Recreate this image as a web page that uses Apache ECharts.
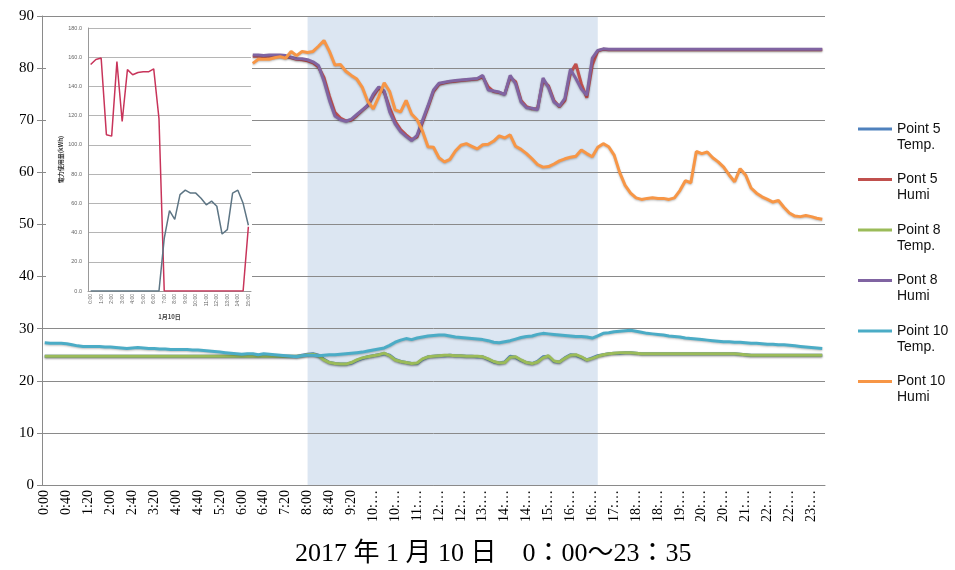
<!DOCTYPE html>
<html>
<head>
<meta charset="utf-8">
<script src="https://cdn.jsdelivr.net/npm/echarts@6/dist/echarts.min.js"></script>
<style>
  html, body { margin: 0; padding: 0; background: #fff; }
  #chart { width: 955px; height: 570px; }
</style>
</head>
<body>
<div id="chart"></div>
<script>
// Time axis: one category every 10 minutes from 0:00
const times = [];
for (let i = 0; i < 143; i++) {
  const h = Math.floor(i / 6), m = (i % 6) * 10;
  times.push(h + ':' + (m < 10 ? '0' : '') + m);
}

// Temperature (°C) and humidity (%) readings
const p5Temp = [
  24.7,24.7,24.7,24.7,24.7,24.7,24.7,24.7,24.7,24.7,
  24.7,24.7,24.7,24.7,24.7,24.7,24.7,24.7,24.7,24.7,
  24.7,24.7,24.7,24.7,24.7,24.7,24.7,24.7,24.7,24.7,
  24.7,24.7,24.7,24.7,24.7,24.7,24.7,24.7,24.7,24.7,
  24.7,24.7,24.7,24.7,24.7,24.7,24.7,24.9,25.1,25.2,
  24.9,24.1,23.5,23.3,23.2,23.2,23.4,23.9,24.3,24.6,
  24.8,25.0,25.2,24.9,24.1,23.7,23.5,23.3,23.3,24.1,
  24.6,24.7,24.8,24.8,24.9,24.8,24.8,24.7,24.7,24.6,
  24.6,24.1,23.6,23.4,23.6,24.7,24.5,23.9,23.5,23.3,
  23.7,24.6,24.7,23.7,23.6,24.4,25.0,24.9,24.5,24.0,
  24.4,24.8,25.0,25.2,25.3,25.3,25.4,25.4,25.3,25.2,
  25.2,25.2,25.2,25.2,25.2,25.2,25.2,25.2,25.2,25.2,
  25.2,25.2,25.2,25.2,25.2,25.2,25.2,25.1,25.0,24.9,
  24.9,24.9,24.9,24.9,24.9,24.9,24.9,24.9,24.9,24.9,
  24.9,24.9,24.9
];
const p5Humi = [
  null,null,null,null,null,null,null,null,null,null,
  null,null,null,null,null,null,null,null,null,null,
  null,null,null,null,null,null,null,null,null,null,
  null,null,null,null,null,null,null,null,82.3,82.3,
  82.2,82.3,82.3,82.3,82.2,82.0,81.7,81.6,81.4,81.0,
  80.2,78.2,74.6,71.5,70.4,69.9,70.0,70.9,71.9,72.8,
  74.6,76.2,75.4,72.4,69.8,68.2,67.2,66.3,66.8,69.6,
  72.5,75.5,76.9,77.2,77.4,77.5,77.6,77.7,77.8,77.9,
  78.3,76.4,75.5,75.3,75.0,78.2,77.4,73.8,72.6,72.2,
  72.2,77.6,76.6,73.8,72.6,73.8,79.0,80.8,77.0,74.3,
  80.6,83.3,83.6,83.5,83.5,83.5,83.5,83.5,83.5,83.5,
  83.5,83.5,83.5,83.5,83.5,83.5,83.5,83.5,83.5,83.5,
  83.5,83.5,83.5,83.5,83.5,83.5,83.5,83.5,83.5,83.5,
  83.5,83.5,83.5,83.5,83.5,83.5,83.5,83.5,83.5,83.5,
  83.5,83.5,83.5
];
const p8Temp = [
  24.7,24.7,24.7,24.7,24.7,24.7,24.7,24.7,24.7,24.7,
  24.7,24.7,24.7,24.7,24.7,24.7,24.7,24.7,24.7,24.7,
  24.7,24.7,24.7,24.7,24.7,24.7,24.7,24.7,24.7,24.7,
  24.7,24.7,24.7,24.7,24.7,24.7,24.7,24.7,24.7,24.7,
  24.7,24.7,24.7,24.7,24.7,24.7,24.7,24.8,25.0,25.1,
  24.8,24.0,23.5,23.3,23.2,23.2,23.5,24.0,24.4,24.6,
  24.8,25.0,25.3,24.8,24.0,23.7,23.5,23.3,23.4,24.2,
  24.6,24.7,24.8,24.9,24.9,24.8,24.8,24.7,24.7,24.7,
  24.6,24.2,23.7,23.4,23.5,24.5,24.6,24.0,23.5,23.3,
  23.6,24.4,24.8,23.8,23.6,24.3,24.9,25.0,24.6,24.0,
  24.3,24.7,25.0,25.2,25.3,25.4,25.4,25.4,25.3,25.2,
  25.2,25.2,25.2,25.2,25.2,25.2,25.2,25.2,25.2,25.2,
  25.2,25.2,25.2,25.2,25.2,25.2,25.2,25.1,25.0,24.9,
  24.9,24.9,24.9,24.9,24.9,24.9,24.9,24.9,24.9,24.9,
  24.9,24.9,24.9
];
const p8Humi = [
  null,null,null,null,null,null,null,null,null,null,
  null,null,null,null,null,null,null,null,null,null,
  null,null,null,null,null,null,null,null,null,null,
  null,null,null,null,null,null,null,null,82.5,82.5,
  82.4,82.5,82.5,82.5,82.4,82.1,81.8,81.8,81.6,81.2,
  80.5,77.5,73.8,70.8,70.1,69.8,70.2,71.1,72.0,72.9,
  75.0,76.4,75.6,71.6,69.3,67.8,66.9,66.1,67.1,70.0,
  72.8,75.8,77.1,77.3,77.5,77.6,77.7,77.8,77.9,78.0,
  78.6,75.8,75.6,75.4,74.9,78.6,77.0,73.5,72.4,72.3,
  72.0,78.1,76.3,73.5,72.7,74.2,79.8,78.0,76.0,74.8,
  81.9,83.4,83.7,83.6,83.6,83.6,83.6,83.6,83.6,83.6,
  83.6,83.6,83.6,83.6,83.6,83.6,83.6,83.6,83.6,83.6,
  83.6,83.6,83.6,83.6,83.6,83.6,83.6,83.6,83.6,83.6,
  83.6,83.6,83.6,83.6,83.6,83.6,83.6,83.6,83.6,83.6,
  83.6,83.6,83.6
];
const p10Temp = [
  27.3,27.2,27.2,27.2,27.1,26.9,26.7,26.6,26.6,26.6,
  26.6,26.5,26.5,26.4,26.3,26.2,26.3,26.4,26.3,26.2,
  26.2,26.1,26.1,26.0,26.0,26.0,26.0,25.9,25.9,25.8,
  25.7,25.6,25.5,25.4,25.3,25.2,25.1,25.2,25.2,25.0,
  25.2,25.1,25.0,24.9,24.8,24.7,24.6,24.8,24.9,24.9,
  24.8,24.9,25.0,25.0,25.1,25.2,25.3,25.4,25.5,25.7,
  25.9,26.1,26.3,26.8,27.4,27.8,28.1,27.9,28.2,28.4,
  28.6,28.7,28.8,28.8,28.6,28.4,28.3,28.2,28.1,28.0,
  27.9,27.7,27.4,27.3,27.5,27.7,28.0,28.3,28.5,28.6,
  28.9,29.1,29.0,28.9,28.8,28.7,28.6,28.5,28.5,28.4,
  28.2,28.6,29.1,29.2,29.4,29.5,29.6,29.7,29.5,29.3,
  29.1,29.0,28.9,28.8,28.6,28.5,28.4,28.2,28.1,28.0,
  27.9,27.8,27.7,27.6,27.5,27.5,27.4,27.4,27.3,27.2,
  27.2,27.1,27.0,27.0,26.9,26.9,26.8,26.7,26.6,26.5,
  26.4,26.3,26.2
];
const p10Humi = [
  null,null,null,null,null,null,null,null,null,null,
  null,null,null,null,null,null,null,null,null,null,
  null,null,null,null,null,null,null,null,null,null,
  null,null,null,null,null,null,null,null,80.9,81.7,
  81.7,81.7,82.0,82.2,81.9,83.2,82.4,83.2,83.0,83.2,
  84.2,85.3,83.2,80.6,80.7,79.4,78.6,77.9,76.3,73.6,
  72.2,74.5,77.2,75.5,72.0,71.6,73.8,71.2,70.1,67.9,
  64.9,64.8,62.8,62.0,62.5,64.1,65.2,65.5,65.0,64.5,
  65.3,65.4,66.0,67.0,66.6,67.2,65.0,64.4,63.6,62.6,
  61.5,61.0,61.1,61.6,62.2,62.6,62.9,63.1,64.3,63.6,
  63.0,64.8,65.5,64.9,63.3,60.0,57.5,56.0,55.1,54.8,
  55.0,55.1,55.0,55.0,54.8,55.1,56.5,58.4,58.0,64.0,
  63.6,63.9,62.8,62.0,61.0,59.5,58.2,60.7,59.5,57.0,
  56.0,55.3,54.8,54.3,54.6,53.3,52.2,51.6,51.5,51.7,
  51.5,51.2,51.0
];

// Shaded operating period on the main time axis
const shadeFrom = '8:00', shadeTo = '16:50';

// Inset: power usage (kWh), half-hour steps
const insetTimes = [];
for (let i = 0; i <= 30; i++) {
  insetTimes.push(Math.floor(i / 2) + ':' + (i % 2 ? '30' : '00'));
}
const insetRed = [
  155,158.5,159.5,107,106,157,116,151.5,148,149.5,
  150,150,152,118,0,0,0,0,0,0,
  0,0,0,0,0,0,0,0,0,0,44
];
const insetGray = [
  0,0,0,0,0,0,0,0,0,0,
  0,0,0,0,36,55,49,66,69,67,
  67,63.5,59,61.5,58,39,42,67,69,60,45
];

const names = ['Point 5\nTemp.', 'Pont 5\nHumi', 'Point 8\nTemp.', 'Pont 8\nHumi', 'Point 10\nTemp.', 'Pont 10\nHumi'];
const colors = ['#4F81BD', '#C0504D', '#9BBB59', '#8064A2', '#4BACC6', '#F79646'];
const values = [p5Temp, p5Humi, p8Temp, p8Humi, p10Temp, p10Humi];

const serif = "'Liberation Serif', 'Noto Sans CJK JP', serif";
const gridGray = '#8a8a8a';

const mainSeries = names.map((n, k) => ({
  name: n,
  type: 'line',
  data: values[k],
  symbol: 'none',
  z: 4,
  connectNulls: false,
  lineStyle: {
    color: colors[k], width: 3,
    shadowColor: 'rgba(0,0,0,0.25)', shadowBlur: 2, shadowOffsetY: 1
  },
  itemStyle: { color: colors[k] }
}));

const option = {
  animation: false,
  backgroundColor: '#fff',
  title: {
    text: '2017 年 1 月 10 日　0：00～23：35',
    left: 290,
    top: 536,
    textStyle: { fontFamily: serif, fontSize: 26, fontWeight: 'normal', color: '#000' }
  },
  legend: {
    data: names,
    orient: 'vertical',
    left: 853,
    top: 100,
    itemWidth: 34,
    itemHeight: 10,
    itemGap: 2.5,
    icon: 'path://M0,0 L34,0 L34,3 L0,3 Z',
    // leading blank line keeps the icon level with the first text line
    formatter: n => '\n' + n,
    textStyle: {
      fontFamily: "'Liberation Sans', sans-serif",
      fontSize: 14, color: '#111', lineHeight: 16
    }
  },
  graphic: [{
    type: 'rect',
    z: 5,
    shape: { x: 46, y: 17, width: 206, height: 309 },
    style: { fill: '#fff' }
  }],
  grid: [
    { left: 42, right: 130, top: 16, bottom: 85 },
    { left: 88, top: 28, width: 163, height: 263, z: 6 }
  ],
  xAxis: [{
    type: 'category',
    data: times,
    boundaryGap: true,
    z: 3,
    axisLine: { lineStyle: { color: gridGray } },
    axisTick: { interval: 0, length: 4, lineStyle: { color: gridGray } },
    axisLabel: {
      interval: 3, rotate: 90, margin: 5,
      fontFamily: serif, fontSize: 14, color: '#000',
      formatter: v => v.length > 4 ? v.slice(0, 3) + '…' : v
    },
    splitLine: { show: false }
  }, {
    type: 'category',
    gridIndex: 1,
    data: insetTimes,
    boundaryGap: true,
    z: 6,
    axisLine: { lineStyle: { color: '#999' } },
    axisTick: { show: false },
    axisLabel: { interval: 1, rotate: 90, margin: 3, fontSize: 5, color: '#666' },
    name: '1月10日',
    nameLocation: 'middle',
    nameGap: 23,
    nameTextStyle: { fontSize: 6, fontWeight: 'bold', color: '#444', fontFamily: "'Noto Sans CJK JP', sans-serif" }
  }],
  yAxis: [{
    type: 'value',
    min: 0, max: 90, interval: 10,
    z: 3,
    axisLine: { show: true, lineStyle: { color: gridGray } },
    axisTick: { show: true, length: 5, lineStyle: { color: gridGray } },
    axisLabel: { fontFamily: serif, fontSize: 15, color: '#000', margin: 8 },
    splitLine: { lineStyle: { color: gridGray, width: 1 } }
  }, {
    type: 'value',
    gridIndex: 1,
    min: 0, max: 180, interval: 20,
    z: 6,
    axisLine: { show: true, lineStyle: { color: '#999' } },
    axisTick: { show: false },
    axisLabel: { fontSize: 5.5, color: '#666', margin: 6, formatter: v => v.toFixed(1) },
    splitLine: { lineStyle: { color: '#b5b5b5', width: 1 } },
    name: '電力使用量(kWh)',
    nameLocation: 'middle',
    nameRotate: 90,
    nameGap: 24,
    nameTextStyle: { fontSize: 6, fontWeight: 'bold', color: '#333', fontFamily: "'Noto Sans CJK JP', sans-serif" }
  }],
  series: [
    {
      name: 'shade',
      type: 'line',
      data: [],
      z: 1,
      silent: true,
      markArea: {
        silent: true,
        itemStyle: { color: '#dce6f2' },
        data: [[{ xAxis: shadeFrom }, { xAxis: shadeTo }]]
      }
    },
    ...mainSeries,
    {
      type: 'line', xAxisIndex: 1, yAxisIndex: 1, data: insetRed,
      symbol: 'none', z: 7, lineStyle: { color: '#c8345a', width: 1.5 }
    },
    {
      type: 'line', xAxisIndex: 1, yAxisIndex: 1, data: insetGray,
      symbol: 'none', z: 7, lineStyle: { color: '#5d7584', width: 1.5 }
    }
  ]
};

const chart = echarts.init(document.getElementById('chart'), null, { renderer: 'canvas' });
chart.setOption(option);
</script>
</body>
</html>
